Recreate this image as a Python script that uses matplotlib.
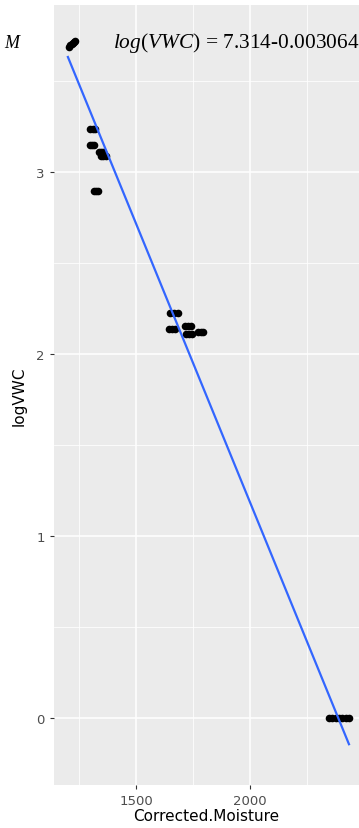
import numpy as np
import matplotlib
matplotlib.use("Agg")
import matplotlib.pyplot as plt

# data
moisture = [1206, 1212, 1218, 1224, 1229, 1232,
            1300, 1309, 1318,
            1296, 1305, 1314,
            1337, 1346, 1355, 1346, 1357, 1368,
            1315, 1323, 1332,
            1649, 1666, 1684,
            1644, 1657, 1671,
            1715, 1728, 1741,
            1719, 1732, 1745,
            1772, 1783, 1794,
            2346, 2360, 2375, 2390, 2405, 2420, 2434]
log_vwc = [3.69, 3.70, 3.705, 3.71, 3.715, 3.72,
           3.24, 3.24, 3.24,
           3.148, 3.148, 3.148,
           3.11, 3.11, 3.11, 3.09, 3.09, 3.09,
           2.90, 2.90, 2.90,
           2.225, 2.225, 2.225,
           2.137, 2.137, 2.137,
           2.154, 2.154, 2.154,
           2.11, 2.11, 2.11,
           2.121, 2.121, 2.121,
           0, 0, 0, 0, 0, 0, 0]
intercept = 7.314
slope = -0.003064
x_ticks = [1500, 2000]
y_ticks = [0, 1, 2, 3]

plt.rcParams['mathtext.fontset'] = 'custom'
plt.rcParams['mathtext.rm'] = 'Liberation Serif'
plt.rcParams['mathtext.it'] = 'Liberation Serif:italic'

fig = plt.figure(figsize=(3.59, 8.29), dpi=100)
ax = fig.add_axes([54 / 359, 1 - 786 / 829, 1 - 54 / 359, 780 / 829])
ax.set_facecolor('#EBEBEB')
for s in ax.spines.values():
    s.set_visible(False)

ax.set_xlim(1140, 2478)
ax.set_ylim(-0.368, 3.92)
ax.set_xticks(x_ticks)
ax.set_yticks(y_ticks)
ax.set_xticks([1250, 1750, 2250], minor=True)
ax.set_yticks([0.5, 1.5, 2.5, 3.5], minor=True)
ax.grid(True, which='major', color='white', lw=1.1)
ax.grid(True, which='minor', color='white', lw=0.55)
ax.set_axisbelow(True)
ax.tick_params(which='major', length=3, width=0.8, color='#333333',
               labelcolor='#4D4D4D', labelsize=9.5, pad=3.5)
ax.tick_params(which='minor', length=0)

ax.scatter(moisture, log_vwc, s=30, color='black', zorder=3, linewidths=0)

xs = np.array([min(moisture) - 5, max(moisture)])
ax.plot(xs, intercept + slope * xs, color='#3366FF', lw=1.6, zorder=4)

ax.text(1399, 3.717, r"$log(VWC)$ = 7.314-0.003064", family='Liberation Serif',
        fontsize=15.4, ha='left', va='center', zorder=5)
fig.text(4 / 359, 1 - 43 / 829, "M", family='Liberation Serif', style='italic',
         fontsize=13, ha='left', va='center')

ax.set_xlabel("Corrected.Moisture", fontsize=11, labelpad=1)
ax.set_ylabel("logVWC", fontsize=11, labelpad=7)

fig.savefig("out.png", dpi=100)
